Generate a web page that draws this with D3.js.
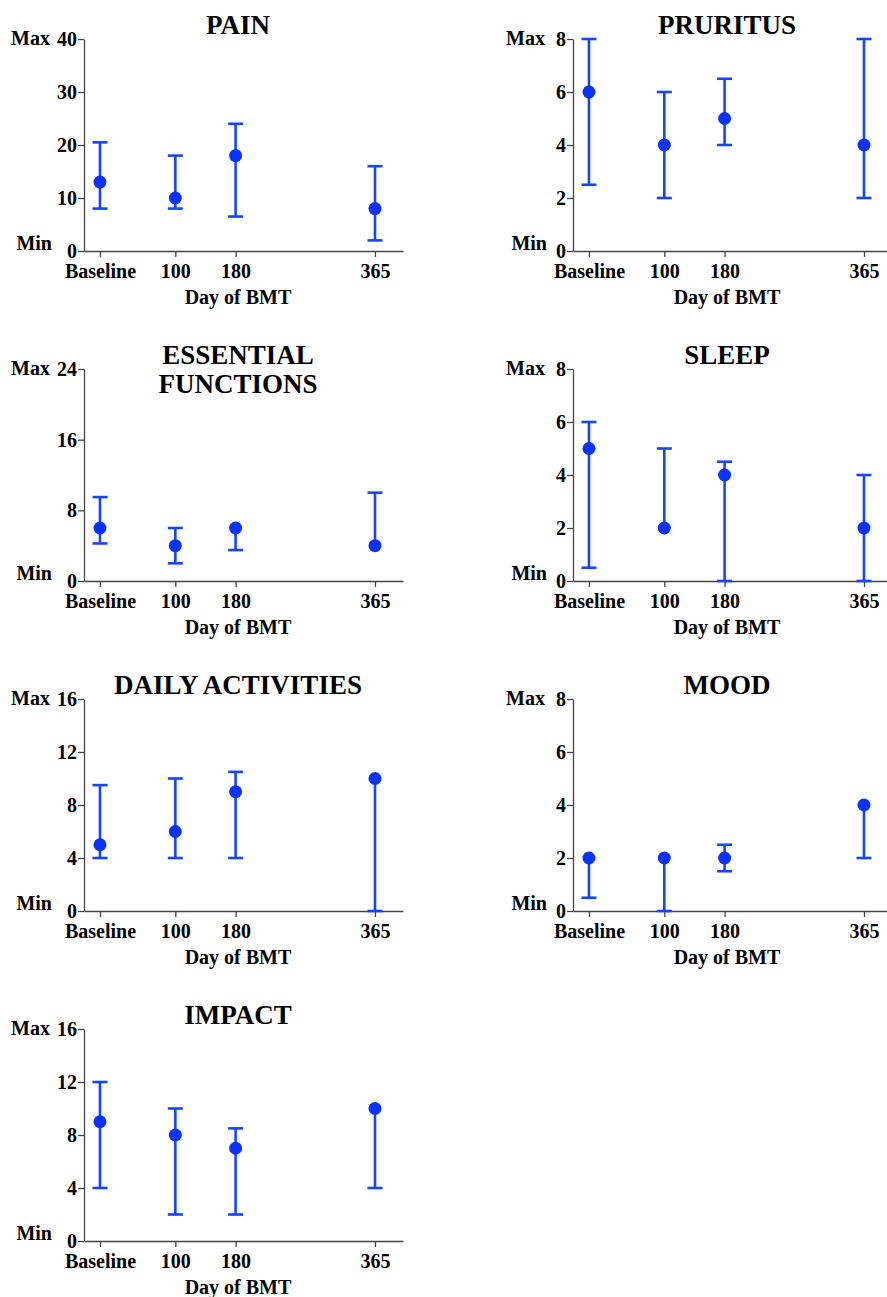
<!DOCTYPE html>
<html>
<head>
<meta charset="utf-8">
<script src="https://cdn.jsdelivr.net/npm/d3@7"></script>
<style>
  body { margin: 0; background: #fff; }
  svg text { font-family: "Liberation Serif", "Times New Roman", serif; font-weight: bold; fill: #000; }
</style>
</head>
<body>
<div id="chart"></div>
<script>
// x categories (days after BMT, baseline = day 0)
var days = [0, 100, 180, 365];
var dayLabels = ['Baseline', '100', '180', '365'];

// one entry per panel
var titles = [['PAIN'], ['PRURITUS'], ['ESSENTIAL', 'FUNCTIONS'], ['SLEEP'], ['DAILY ACTIVITIES'], ['MOOD'], ['IMPACT']];
var yMax = [40, 8, 24, 8, 16, 8, 16];
var yTicks = [
  [0, 10, 20, 30, 40],
  [0, 2, 4, 6, 8],
  [0, 8, 16, 24],
  [0, 2, 4, 6, 8],
  [0, 4, 8, 12, 16],
  [0, 2, 4, 6, 8],
  [0, 4, 8, 12, 16]
];

// medians and ranges at baseline, 100, 180, 365
var medians = [
  [13, 10, 18, 8],
  [6, 4, 5, 4],
  [6, 4, 6, 4],
  [5, 2, 4, 2],
  [5, 6, 9, 10],
  [2, 2, 2, 4],
  [9, 8, 7, 10]
];
var lowers = [
  [8, 8, 6.5, 2],
  [2.5, 2, 4, 2],
  [4.25, 2, 3.5, 4],
  [0.5, 2, 0, 0],
  [4, 4, 4, 0],
  [0.5, 0, 1.5, 2],
  [4, 2, 2, 4]
];
var uppers = [
  [20.5, 18, 24, 16],
  [8, 6, 6.5, 8],
  [9.5, 6, 6, 10],
  [6, 5, 4.5, 4],
  [9.5, 10, 10.5, 10],
  [2, 2, 2.5, 4],
  [12, 10, 8.5, 10]
];

var WIDTH = 887, HEIGHT = 1297;
var PLOT_W = 319, PLOT_H = 212;
var COL_X = [84, 573];
var ROW_Y = 39, ROW_STEP = 330;
var DOT = '#0a32ff', BAR = '#1744ff', AXIS = '#444';

var svg = d3.select('#chart').append('svg')
  .attr('width', WIDTH).attr('height', HEIGHT)
  .attr('viewBox', '0 0 ' + WIDTH + ' ' + HEIGHT);

var x = d3.scaleLinear().domain([-21.2, 402.2]).range([0, PLOT_W]);

titles.forEach(function (title, i) {
  var col = i % 2, row = Math.floor(i / 2);
  var g = svg.append('g')
    .attr('transform', 'translate(' + COL_X[col] + ',' + (ROW_Y + row * ROW_STEP) + ')');
  var y = d3.scaleLinear().domain([0, yMax[i]]).range([PLOT_H, 0]);

  // y axis
  var ya = g.append('g').call(d3.axisLeft(y).tickValues(yTicks[i]).tickSize(6).tickPadding(1).tickSizeOuter(0));
  ya.selectAll('text').attr('font-size', 20).style('font-family', null);
  ya.selectAll('line, path').attr('stroke', AXIS).attr('stroke-width', 1.3);

  // x axis
  var xa = g.append('g').attr('transform', 'translate(0,' + PLOT_H + ')')
    .call(d3.axisBottom(x).tickValues(days).tickSize(6).tickPadding(7).tickSizeOuter(0)
      .tickFormat(function (d, j) { return dayLabels[j]; }));
  xa.selectAll('text').attr('font-size', 20).style('font-family', null);
  xa.selectAll('line, path').attr('stroke', AXIS).attr('stroke-width', 1.3);
  g.selectAll('.domain').attr('stroke', AXIS);

  // Max / Min labels left of the tick labels
  var off = yMax[i] >= 10 ? 34 : 28;
  g.append('text').attr('x', -off).attr('y', y(yMax[i])).attr('dy', '0.32em')
    .attr('text-anchor', 'end').attr('font-size', 20).text('Max');
  g.append('text').attr('x', -off + 2).attr('y', y(0) - 1)
    .attr('text-anchor', 'end').attr('font-size', 20).text('Min');

  // title
  var t = g.append('text').attr('x', 154).attr('y', -5)
    .attr('text-anchor', 'middle').attr('font-size', 27);
  title.forEach(function (line, k) {
    t.append('tspan').attr('x', 154).attr('dy', k === 0 ? 0 : 29).text(line);
  });

  // x title
  g.append('text').attr('x', 154).attr('y', PLOT_H + 53)
    .attr('text-anchor', 'middle').attr('font-size', 20).text('Day of BMT');

  // error bars
  var pts = days.map(function (d, j) {
    return { day: d, med: medians[i][j], lo: lowers[i][j], hi: uppers[i][j] };
  });
  var bars = g.append('g').attr('stroke', BAR).attr('stroke-width', 2.6);
  bars.selectAll('.stem').data(pts).enter().append('line')
    .attr('x1', function (d) { return x(d.day); })
    .attr('x2', function (d) { return x(d.day); })
    .attr('y1', function (d) { return y(d.lo); })
    .attr('y2', function (d) { return y(d.hi); });
  var caps = [];
  pts.forEach(function (d) {
    if (d.hi !== d.med) caps.push({ day: d.day, v: d.hi });
    if (d.lo !== d.med) caps.push({ day: d.day, v: d.lo });
  });
  bars.selectAll('.cap').data(caps).enter().append('line')
    .attr('x1', function (d) { return x(d.day) - 7.5; })
    .attr('x2', function (d) { return x(d.day) + 7.5; })
    .attr('y1', function (d) { return y(d.v); })
    .attr('y2', function (d) { return y(d.v); });

  // medians
  g.append('g').selectAll('circle').data(pts).enter().append('circle')
    .attr('cx', function (d) { return x(d.day); })
    .attr('cy', function (d) { return y(d.med); })
    .attr('r', 6.5).attr('fill', DOT);
});
</script>
</body>
</html>
